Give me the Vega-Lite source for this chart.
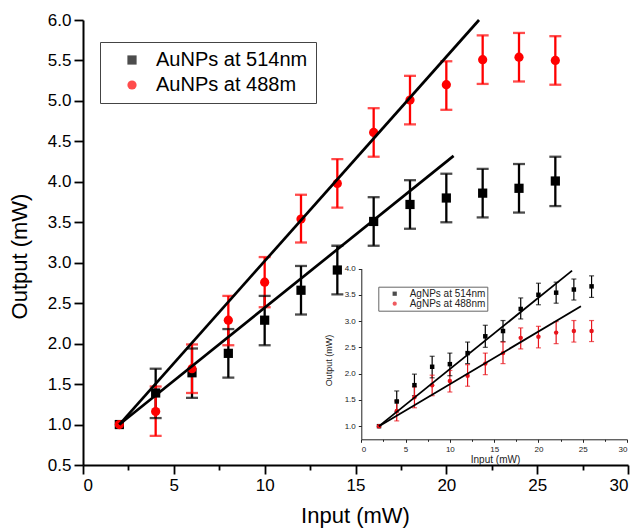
{
  "$schema": "https://vega.github.io/schema/vega-lite/v6.json",
  "width": 545,
  "height": 445,
  "autosize": "none",
  "padding": {"left": 83, "top": 20, "right": 11, "bottom": 63},
  "background": "white",
  "config": {"view": {"stroke": null}, "font": "Liberation Sans"},
  "datasets": {
    "mainPts": [
      {"input": 2, "output": 1.0, "lo": null, "hi": null, "series": "AuNPs at 514nm"},
      {"input": 4, "output": 1.39, "lo": 1.08, "hi": 1.69, "series": "AuNPs at 514nm"},
      {"input": 6, "output": 1.64, "lo": 1.33, "hi": 1.94, "series": "AuNPs at 514nm"},
      {"input": 8, "output": 1.88, "lo": 1.58, "hi": 2.18, "series": "AuNPs at 514nm"},
      {"input": 10, "output": 2.29, "lo": 1.98, "hi": 2.59, "series": "AuNPs at 514nm"},
      {"input": 12, "output": 2.66, "lo": 2.36, "hi": 2.96, "series": "AuNPs at 514nm"},
      {"input": 14, "output": 2.91, "lo": 2.61, "hi": 3.21, "series": "AuNPs at 514nm"},
      {"input": 16, "output": 3.51, "lo": 3.21, "hi": 3.81, "series": "AuNPs at 514nm"},
      {"input": 18, "output": 3.72, "lo": 3.42, "hi": 4.02, "series": "AuNPs at 514nm"},
      {"input": 20, "output": 3.80, "lo": 3.50, "hi": 4.10, "series": "AuNPs at 514nm"},
      {"input": 22, "output": 3.86, "lo": 3.56, "hi": 4.16, "series": "AuNPs at 514nm"},
      {"input": 24, "output": 3.92, "lo": 3.62, "hi": 4.22, "series": "AuNPs at 514nm"},
      {"input": 26, "output": 4.01, "lo": 3.70, "hi": 4.31, "series": "AuNPs at 514nm"},
      {"input": 2, "output": 1.0, "lo": null, "hi": null, "series": "AuNPs at 488m"},
      {"input": 4, "output": 1.16, "lo": 0.86, "hi": 1.47, "series": "AuNPs at 488m"},
      {"input": 6, "output": 1.69, "lo": 1.39, "hi": 1.99, "series": "AuNPs at 488m"},
      {"input": 8, "output": 2.29, "lo": 1.98, "hi": 2.59, "series": "AuNPs at 488m"},
      {"input": 10, "output": 2.76, "lo": 2.45, "hi": 3.07, "series": "AuNPs at 488m"},
      {"input": 12, "output": 3.54, "lo": 3.25, "hi": 3.84, "series": "AuNPs at 488m"},
      {"input": 14, "output": 3.98, "lo": 3.68, "hi": 4.28, "series": "AuNPs at 488m"},
      {"input": 16, "output": 4.61, "lo": 4.31, "hi": 4.91, "series": "AuNPs at 488m"},
      {"input": 18, "output": 5.01, "lo": 4.71, "hi": 5.31, "series": "AuNPs at 488m"},
      {"input": 20, "output": 5.20, "lo": 4.89, "hi": 5.49, "series": "AuNPs at 488m"},
      {"input": 22, "output": 5.51, "lo": 5.21, "hi": 5.81, "series": "AuNPs at 488m"},
      {"input": 24, "output": 5.54, "lo": 5.24, "hi": 5.84, "series": "AuNPs at 488m"},
      {"input": 26, "output": 5.50, "lo": 5.20, "hi": 5.80, "series": "AuNPs at 488m"}
    ],
    "mainFit": [
      {"input": 2, "output": 1.0, "fit": "514"},
      {"input": 20.4, "output": 4.32, "fit": "514"},
      {"input": 2, "output": 1.0, "fit": "488"},
      {"input": 21.8, "output": 6.0, "fit": "488"}
    ],
    "insetPts": [
      {"input": 2, "output": 1.0, "lo": null, "hi": null, "series": "AgNPs at 514nm"},
      {"input": 4, "output": 1.47, "lo": 1.27, "hi": 1.67, "series": "AgNPs at 514nm"},
      {"input": 6, "output": 1.78, "lo": 1.58, "hi": 1.99, "series": "AgNPs at 514nm"},
      {"input": 8, "output": 2.13, "lo": 1.92, "hi": 2.33, "series": "AgNPs at 514nm"},
      {"input": 10, "output": 2.18, "lo": 1.96, "hi": 2.39, "series": "AgNPs at 514nm"},
      {"input": 12, "output": 2.39, "lo": 2.19, "hi": 2.60, "series": "AgNPs at 514nm"},
      {"input": 14, "output": 2.71, "lo": 2.50, "hi": 2.92, "series": "AgNPs at 514nm"},
      {"input": 16, "output": 2.81, "lo": 2.61, "hi": 3.01, "series": "AgNPs at 514nm"},
      {"input": 18, "output": 3.23, "lo": 3.04, "hi": 3.44, "series": "AgNPs at 514nm"},
      {"input": 20, "output": 3.50, "lo": 3.31, "hi": 3.72, "series": "AgNPs at 514nm"},
      {"input": 22, "output": 3.54, "lo": 3.34, "hi": 3.74, "series": "AgNPs at 514nm"},
      {"input": 24, "output": 3.60, "lo": 3.40, "hi": 3.80, "series": "AgNPs at 514nm"},
      {"input": 26, "output": 3.66, "lo": 3.45, "hi": 3.86, "series": "AgNPs at 514nm"},
      {"input": 2, "output": 1.0, "lo": null, "hi": null, "series": "AgNPs at 488nm"},
      {"input": 4, "output": 1.29, "lo": 1.10, "hi": 1.48, "series": "AgNPs at 488nm"},
      {"input": 6, "output": 1.55, "lo": 1.35, "hi": 1.75, "series": "AgNPs at 488nm"},
      {"input": 8, "output": 1.78, "lo": 1.58, "hi": 1.97, "series": "AgNPs at 488nm"},
      {"input": 10, "output": 1.86, "lo": 1.65, "hi": 2.06, "series": "AgNPs at 488nm"},
      {"input": 12, "output": 1.96, "lo": 1.76, "hi": 2.17, "series": "AgNPs at 488nm"},
      {"input": 14, "output": 2.19, "lo": 1.98, "hi": 2.39, "series": "AgNPs at 488nm"},
      {"input": 16, "output": 2.39, "lo": 2.19, "hi": 2.60, "series": "AgNPs at 488nm"},
      {"input": 18, "output": 2.68, "lo": 2.47, "hi": 2.87, "series": "AgNPs at 488nm"},
      {"input": 20, "output": 2.70, "lo": 2.49, "hi": 2.90, "series": "AgNPs at 488nm"},
      {"input": 22, "output": 2.78, "lo": 2.57, "hi": 2.99, "series": "AgNPs at 488nm"},
      {"input": 24, "output": 2.81, "lo": 2.60, "hi": 3.01, "series": "AgNPs at 488nm"},
      {"input": 26, "output": 2.81, "lo": 2.61, "hi": 3.01, "series": "AgNPs at 488nm"}
    ],
    "insetFit": [
      {"input": 2, "output": 1.0, "fit": "514"},
      {"input": 23.8, "output": 3.96, "fit": "514"},
      {"input": 2, "output": 1.0, "fit": "488"},
      {"input": 24.8, "output": 3.28, "fit": "488"}
    ]
  },
  "layer": [
    {
      "layer": [
        {
          "data": {"name": "mainPts"},
          "mark": {"type": "rule", "strokeWidth": 2.3},
          "encoding": {
            "x": {"field": "input", "type": "quantitative",
              "scale": {"domain": [0, 30], "nice": false, "zero": false},
              "axis": {
                "orient": "bottom",
                "values": [0, 2.5, 5, 7.5, 10, 12.5, 15, 17.5, 20, 22.5, 25, 27.5, 30],
                "labelExpr": "datum.value % 5 === 0 ? format(datum.value, 'd') : ''",
                "labelOverlap": false,
                "labelFont": "Liberation Sans", "labelFontSize": 17, "labelColor": "black", "labelPadding": 3,
                "domainColor": "black", "domainWidth": 2, "tickColor": "black", "tickWidth": 1.8,
                "tickSize": {"condition": {"test": "datum.value % 5 === 0", "value": 9}, "value": 5},
                "grid": false,
                "title": "Input (mW)", "titleFont": "Liberation Sans", "titleFontSize": 22, "titleFontWeight": "normal",
                "titleColor": "black", "titleX": 272, "titleY": 57, "titleBaseline": "alphabetic", "titleAlign": "center"
              }},
            "y": {"field": "lo", "type": "quantitative",
              "scale": {"domain": [0.5, 6.0], "nice": false, "zero": false},
              "axis": {
                "orient": "left",
                "values": [0.5, 0.75, 1.0, 1.25, 1.5, 1.75, 2.0, 2.25, 2.5, 2.75, 3.0, 3.25, 3.5, 3.75, 4.0, 4.25, 4.5, 4.75, 5.0, 5.25, 5.5, 5.75, 6.0],
                "labelExpr": "abs(datum.value*2 - round(datum.value*2)) < 0.001 ? format(datum.value, '.1f') : ''",
                "labelOverlap": false,
                "labelFont": "Liberation Sans", "labelFontSize": 17, "labelColor": "black", "labelPadding": 3,
                "domainColor": "black", "domainWidth": 2, "tickColor": "black", "tickWidth": 1.8,
                "tickSize": {"condition": {"test": "abs(datum.value*2 - round(datum.value*2)) < 0.001", "value": 9}, "value": 5},
                "grid": false,
                "title": "Output (mW)", "titleFont": "Liberation Sans", "titleFontSize": 22, "titleFontWeight": "normal",
                "titleColor": "black", "titleX": -64, "titleY": 236, "titleBaseline": "middle", "titleAlign": "center", "titleAngle": -90
              }},
            "y2": {"field": "hi"},
            "color": {"field": "series", "type": "nominal",
              "scale": {"domain": ["AuNPs at 514nm", "AuNPs at 488m"], "range": ["#000000", "#ff0000"]}}
          }
        },
        {
          "data": {"name": "mainPts"},
          "mark": {"type": "tick", "orient": "horizontal", "size": 12, "thickness": 2.3},
          "encoding": {
            "x": {"field": "input", "type": "quantitative"},
            "y": {"field": "lo", "type": "quantitative"},
            "color": {"field": "series", "type": "nominal"}
          }
        },
        {
          "data": {"name": "mainPts"},
          "mark": {"type": "tick", "orient": "horizontal", "size": 12, "thickness": 2.3},
          "encoding": {
            "x": {"field": "input", "type": "quantitative"},
            "y": {"field": "hi", "type": "quantitative"},
            "color": {"field": "series", "type": "nominal"}
          }
        },
        {
          "data": {"name": "mainPts"},
          "mark": {"type": "point", "filled": true, "opacity": 1, "size": 85},
          "encoding": {
            "x": {"field": "input", "type": "quantitative"},
            "y": {"field": "output", "type": "quantitative"},
            "color": {"field": "series", "type": "nominal",
              "legend": {"orient": "none", "legendX": 17, "legendY": 22, "direction": "vertical", "title": null,
                "labelFont": "Liberation Sans", "labelFontSize": 20, "labelColor": "black",
                "symbolSize": 85, "symbolStrokeWidth": 0, "symbolOpacity": 1, "padding": 8, "rowPadding": 5,
                "symbolOffset": 14, "labelOffset": 14, "strokeColor": "#444", "fillColor": "white"}},
            "shape": {"field": "series", "type": "nominal",
              "scale": {"domain": ["AuNPs at 514nm", "AuNPs at 488m"], "range": ["square", "circle"]},
              "legend": {"orient": "none", "legendX": 17, "legendY": 22, "direction": "vertical", "title": null,
                "labelFont": "Liberation Sans", "labelFontSize": 20, "labelColor": "black",
                "symbolSize": 85, "symbolStrokeWidth": 0, "symbolOpacity": 1, "padding": 8, "rowPadding": 5,
                "symbolOffset": 14, "labelOffset": 14, "strokeColor": "#444", "fillColor": "white"}}
          }
        },
        {
          "data": {"name": "mainFit"},
          "mark": {"type": "line", "color": "black", "strokeWidth": 2.7},
          "encoding": {
            "x": {"field": "input", "type": "quantitative"},
            "y": {"field": "output", "type": "quantitative"},
            "detail": {"field": "fit", "type": "nominal"}
          }
        }
      ]
    },
    {
      "layer": [
        {
          "data": {"name": "insetPts"},
          "mark": {"type": "rule", "strokeWidth": 1.2},
          "encoding": {
            "x": {"field": "input", "type": "quantitative",
              "scale": {"domain": [0, 30], "range": [278.3, 544], "nice": false, "zero": false},
              "axis": {
                "orient": "bottom", "offset": -25.7,
                "values": [0, 2.5, 5, 7.5, 10, 12.5, 15, 17.5, 20, 22.5, 25, 27.5, 30],
                "labelExpr": "datum.value % 5 === 0 ? format(datum.value, 'd') : ''",
                "labelOverlap": false,
                "labelFont": "Liberation Sans", "labelFontSize": 8, "labelColor": "#222", "labelPadding": 3,
                "domainColor": "#222", "domainWidth": 1, "tickColor": "#222", "tickWidth": 1,
                "tickSize": {"condition": {"test": "datum.value % 5 === 0", "value": 3}, "value": 2},
                "grid": false,
                "title": "Input (mW)", "titleFont": "Liberation Sans", "titleFontSize": 10, "titleFontWeight": "normal",
                "titleColor": "#222", "titleX": 412, "titleY": 23.5, "titleBaseline": "alphabetic", "titleAlign": "center"
              }},
            "y": {"field": "lo", "type": "quantitative",
              "scale": {"domain": [0.75, 4.0], "range": [419.3, 248.5], "nice": false, "zero": false},
              "axis": {
                "orient": "left", "offset": -278.3,
                "values": [1.0, 1.5, 2.0, 2.5, 3.0, 3.5, 4.0],
                "format": ".1f",
                "labelOverlap": false,
                "labelFont": "Liberation Sans", "labelFontSize": 8, "labelColor": "#222", "labelPadding": 3,
                "domainColor": "#222", "domainWidth": 1, "tickColor": "#222", "tickWidth": 1, "tickSize": 3,
                "grid": false,
                "title": "Output (mW)", "titleFont": "Liberation Sans", "titleFontSize": 9, "titleFontWeight": "normal",
                "titleColor": "#222", "titleX": -33, "titleY": 340, "titleBaseline": "middle", "titleAlign": "center", "titleAngle": -90
              }},
            "y2": {"field": "hi"},
            "color": {"field": "series", "type": "nominal",
              "scale": {"domain": ["AgNPs at 514nm", "AgNPs at 488nm"], "range": ["#000000", "#e8141b"]}}
          }
        },
        {
          "data": {"name": "insetPts"},
          "mark": {"type": "tick", "orient": "horizontal", "size": 5, "thickness": 1.2},
          "encoding": {
            "x": {"field": "input", "type": "quantitative"},
            "y": {"field": "lo", "type": "quantitative"},
            "color": {"field": "series", "type": "nominal"}
          }
        },
        {
          "data": {"name": "insetPts"},
          "mark": {"type": "tick", "orient": "horizontal", "size": 5, "thickness": 1.2},
          "encoding": {
            "x": {"field": "input", "type": "quantitative"},
            "y": {"field": "hi", "type": "quantitative"},
            "color": {"field": "series", "type": "nominal"}
          }
        },
        {
          "data": {"name": "insetPts"},
          "mark": {"type": "point", "filled": true, "opacity": 1, "size": 20},
          "encoding": {
            "x": {"field": "input", "type": "quantitative"},
            "y": {"field": "output", "type": "quantitative"},
            "color": {"field": "series", "type": "nominal",
              "legend": {"orient": "none", "legendX": 295.3, "legendY": 266.7, "direction": "vertical", "title": null,
                "labelFont": "Liberation Sans", "labelFontSize": 10, "labelColor": "#222",
                "symbolSize": 18, "symbolStrokeWidth": 0, "symbolOpacity": 1, "padding": 2, "rowPadding": 0,
                "symbolOffset": 9.4, "labelOffset": 10, "strokeColor": "#666", "fillColor": "white"}},
            "shape": {"field": "series", "type": "nominal",
              "scale": {"domain": ["AgNPs at 514nm", "AgNPs at 488nm"], "range": ["square", "circle"]},
              "legend": {"orient": "none", "legendX": 295.3, "legendY": 266.7, "direction": "vertical", "title": null,
                "labelFont": "Liberation Sans", "labelFontSize": 10, "labelColor": "#222",
                "symbolSize": 18, "symbolStrokeWidth": 0, "symbolOpacity": 1, "padding": 2, "rowPadding": 0,
                "symbolOffset": 9.4, "labelOffset": 10, "strokeColor": "#666", "fillColor": "white"}}
          }
        },
        {
          "data": {"name": "insetFit"},
          "mark": {"type": "line", "color": "black", "strokeWidth": 1.8},
          "encoding": {
            "x": {"field": "input", "type": "quantitative"},
            "y": {"field": "output", "type": "quantitative"},
            "detail": {"field": "fit", "type": "nominal"}
          }
        }
      ]
    }
  ],
  "resolve": {
    "scale": {"x": "independent", "y": "independent", "color": "independent", "shape": "independent"},
    "axis": {"x": "independent", "y": "independent"},
    "legend": {"color": "independent", "shape": "independent"}
  }
}
